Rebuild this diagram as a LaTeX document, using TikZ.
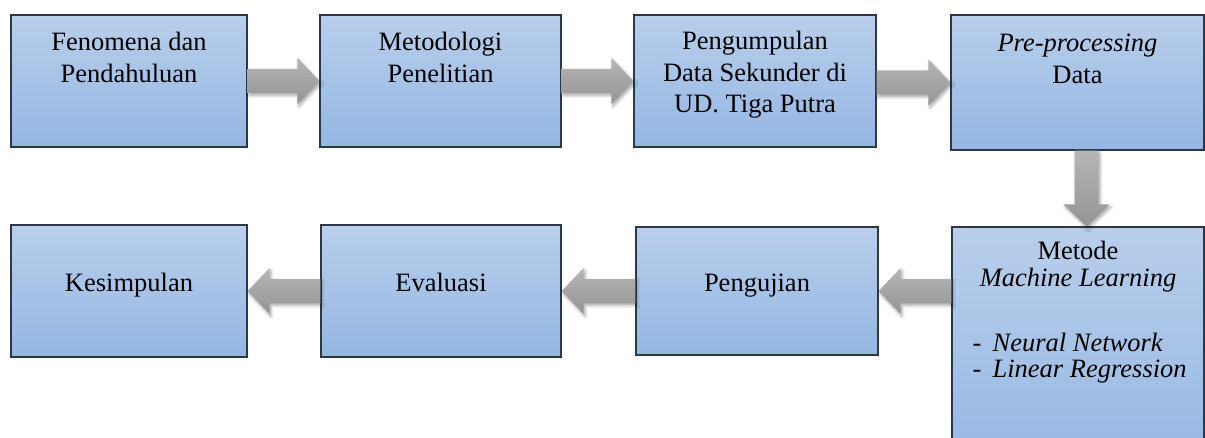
\documentclass[tikz,border=0pt]{standalone}
\usepackage{fontspec}
\setmainfont{Liberation Serif}
\usetikzlibrary{positioning,calc,shadows.blur}
\definecolor{boxtop}{RGB}{185,206,235}
\definecolor{boxbot}{RGB}{148,183,227}
\definecolor{boxline}{RGB}{45,55,70}
\definecolor{arrowtop}{RGB}{182,182,182}
\definecolor{arrowbot}{RGB}{148,148,148}
\tikzset{
  box/.style={rectangle, draw=boxline, line width=1.2pt, top color=boxtop, bottom color=boxbot, inner sep=0pt},
  txt/.style={align=center, inner sep=0pt, font=\fontsize{26.5}{31.5}\selectfont},
  fatarrow/.style={top color=arrowtop, bottom color=arrowbot,
    blur shadow={shadow xshift=1.5pt, shadow yshift=-2.5pt, shadow blur radius=3pt, shadow opacity=35}}
}
% block arrow from #1 (tail) to #2 (tip)
\newcommand{\blockarrow}[2]{%
  \coordinate (ba-s) at (#1);
  \coordinate (ba-t) at (#2);
  \coordinate (ba-h) at ($(ba-t)!22pt!(ba-s)$);
  \path[fatarrow] ($(ba-s)!12pt!90:(ba-t)$) -- ($(ba-h)!12pt!90:(ba-t)$)
    -- ($(ba-h)!23pt!90:(ba-t)$) -- (ba-t) -- ($(ba-h)!23pt!-90:(ba-t)$)
    -- ($(ba-h)!12pt!-90:(ba-t)$) -- ($(ba-s)!12pt!-90:(ba-t)$) -- cycle;
}
\begin{document}
\begin{tikzpicture}[x=1pt,y=-1pt]
    \useasboundingbox (0,0) rectangle (1205,438);
    % top row
    \node[box, minimum width=236pt, minimum height=132pt] (fen) at (129,81) {};
    \node[txt, below=18pt of fen.north] (fen-t) {Fenomena dan\\Pendahuluan};
    \node[box, minimum width=241pt, minimum height=132pt] (met) at (440.5,81) {};
    \node[txt, below=18pt of met.north] (met-t) {Metodologi\\Penelitian};
    \node[box, minimum width=242pt, minimum height=132pt] (kum) at (755,81) {};
    \node[txt, below=17pt of kum.north] (kum-t) {Pengumpulan\\Data Sekunder di\\UD. Tiga Putra};
    \node[box, minimum width=253pt, minimum height=135pt] (pre) at (1077.5,82.5) {};
    \node[txt, below=19.5pt of pre.north] (pre-t) {\textit{Pre-processing}\\Data};
    % bottom row
    \node[box, minimum width=252pt, minimum height=253pt] (mes) at (1078,353.5) {};
    \node[txt, below=15pt of mes.north, font=\fontsize{26.5}{27}\selectfont] (mes-t) {Metode\\\textit{Machine Learning}};
    \node[txt, align=left, anchor=north west, font=\fontsize{26.5}{26}\selectfont] (mes-l)
        at ($(mes.north west)+(21,107)$)
        {\makebox[20pt][l]{-}\textit{Neural Network}\\\makebox[20pt][l]{-}\textit{Linear Regression}};
    \node[box, minimum width=242pt, minimum height=128pt] (uji) at (757,291) {};
    \node[txt, below=47pt of uji.north] (uji-t) {Pengujian};
    \node[box, minimum width=240pt, minimum height=132pt] (eva) at (441,291) {};
    \node[txt, below=49pt of eva.north] (eva-t) {Evaluasi};
    \node[box, minimum width=236pt, minimum height=132pt] (kes) at (129,291) {};
    \node[txt, below=49pt of kes.north] (kes-t) {Kesimpulan};
    % arrows
    \blockarrow{fen.east |- met.west}{met.west}
    \blockarrow{met.east |- kum.west}{kum.west}
    \blockarrow{kum.east |- pre.west}{pre.west}
    \blockarrow{$(pre.south)+(9,0)$}{$(pre.south |- mes.north)+(9,0)$}
    \blockarrow{mes.west |- uji.east}{uji.east}
    \blockarrow{uji.west |- eva.east}{eva.east}
    \blockarrow{eva.west |- kes.east}{kes.east}
\end{tikzpicture}
\end{document}
